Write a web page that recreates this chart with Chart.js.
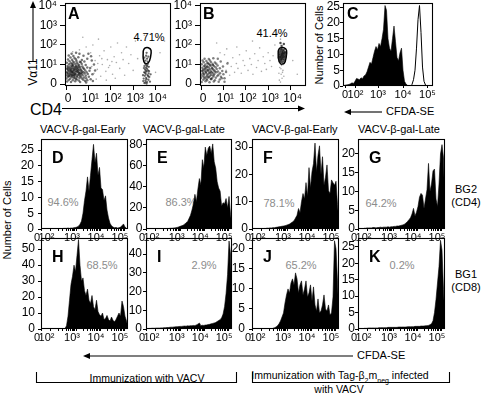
<!DOCTYPE html>
<html><head><meta charset="utf-8">
<script src="https://cdn.jsdelivr.net/npm/chart.js@4"></script>
<style>
body{margin:0;width:481px;height:394px;background:#fff;position:relative;overflow:hidden;font-family:"Liberation Sans",Arial,Helvetica,sans-serif;color:#000}
canvas{position:absolute}
.t{position:absolute;white-space:nowrap;line-height:1}
.c{transform:translate(-50%,-50%)}
.r{transform:translate(-50%,-50%) rotate(-90deg)}
.p{font-size:11px;color:#8c8c8c}
</style></head><body>
<svg width="481" height="394" style="position:absolute;left:0;top:0">
 <g stroke="#000" stroke-width="1.1" fill="none">
  <line x1="33" y1="62" x2="33" y2="6"/>
  <line x1="62" y1="108.5" x2="299" y2="108.5"/>
  <line x1="350" y1="112" x2="382" y2="112"/>
  <line x1="89" y1="356" x2="353" y2="356"/>
  <path d="M36.5,372 V382.5 H236.5 V372"/>
  <path d="M252.5,372 V382.5 H449.5 V372"/>
 </g>
 <g fill="#000">
  <polygon points="33,1 30,8 36,8"/>
  <polygon points="305,108.5 298,105.5 298,111.5"/>
  <polygon points="344,112 351,109 351,115"/>
  <polygon points="83,356 90,353 90,359"/>
 </g>
</svg>
<div class="t r" style="left:33px;top:72px;font-size:12px">Vα11</div>
<div class="t" style="left:30px;top:102px;font-size:16px">CD4</div>
<div class="t c" style="left:149px;top:37px;font-size:11px">4.71%</div>
<div class="t c" style="left:272px;top:33px;font-size:11px">41.4%</div>
<div class="t r" style="left:319px;top:45px;font-size:11px">Number of Cells</div>
<div class="t" style="left:386px;top:106px;font-size:11px">CFDA-SE</div>
<div class="t" style="left:40px;top:124px;font-size:11px">VACV-β-gal-Early</div>
<div class="t" style="left:143px;top:124px;font-size:11px">VACV-β-gal-Late</div>
<div class="t" style="left:252px;top:124px;font-size:11px">VACV-β-gal-Early</div>
<div class="t" style="left:358px;top:124px;font-size:11px">VACV-β-gal-Late</div>
<div class="t c" style="left:466px;top:196px;font-size:11px;text-align:center;line-height:13px">BG2<br>(CD4)</div>
<div class="t c" style="left:466px;top:281px;font-size:11px;text-align:center;line-height:13px">BG1<br>(CD8)</div>
<div class="t r" style="left:7px;top:220px;font-size:11px">Number of Cells</div>
<div class="t" style="left:357px;top:350px;font-size:11px">CFDA-SE</div>
<div class="t c" style="left:147px;top:378px;font-size:10.5px">Immunization with VACV</div>
<div class="t c" style="left:340px;top:377px;font-size:10.5px">Immunization with Tag-β<sub style="font-size:7px">2</sub>m<sub style="font-size:7px">neg</sub> infected</div>
<div class="t c" style="left:339px;top:389px;font-size:10.5px;background:#fff;padding:0 2px">with VACV</div>
<div class="t c p" style="left:63px;top:202px">94.6%</div>
<div class="t c p" style="left:181px;top:202px">86.3%</div>
<div class="t c p" style="left:279px;top:203px">78.1%</div>
<div class="t c p" style="left:381px;top:203px">64.2%</div>
<div class="t c p" style="left:102px;top:265px">68.5%</div>
<div class="t c p" style="left:204px;top:265px">2.9%</div>
<div class="t c p" style="left:301px;top:265px">65.2%</div>
<div class="t c p" style="left:402px;top:265px">0.2%</div>
<script>
// ---------- axis tick labels / positions ----------
const abTickPos = [0, 1, 2, 3, 4];
const abTickLabels = ['0', '10¹', '10²', '10³', '10⁴'];
const cfdaTickPos = [0, 9.5, 35, 59, 83, 17.5, 21.9, 25, 27.5, 29.5, 31.1, 32.6, 33.9, 42.2, 46.5, 49.4, 51.8, 53.7, 55.3, 56.7, 58, 66.2, 70.5, 73.4, 75.8, 77.7, 79.3, 80.7, 82];
const cfdaTickLabels = ['0', '10²', '10³', '10⁴', '10⁵', '', '', '', '', '', '', '', '', '', '', '', '', '', '', '', '', '', '', '', '', '', '', '', ''];
const cTickPos = [2, 12.5, 35, 60, 84.5];
const cTickLabels = ['0', '10²', '10³', '10⁴', '10⁵'];

// ---------- histogram bins (CFDA-SE channel) ----------
const bins = [0,1.5,3,4.5,6,7.5,9,10.5,12,13.5,15,16.5,18,19.5,21,22.5,24,25.5,27,28.5,30,31.5,33,34.5,36,37.5,39,40.5,42,43.5,45,46.5,48,49.5,51,52.5,54,55.5,57,58.5,60,61.5,63,64.5,66,67.5,69,70.5,72,73.5,75,76.5,78,79.5,81,82.5,84,85.5,87];
const binsC = [0,1.5,3,4.5,6,7.5,9,10.5,12,13.5,15,16.5,18,19.5,21,22.5,24,25.5,27,28.5,30,31.5,33,34.5,36,37.5,39,40.5,42,43.5,45,46.5,48,49.5,51,52.5,54,55.5,57,58.5,60,61.5,63,64.5,66,67.5,69,70.5,72,73.5,75,76.5,78,79.5,81,82.5,84,85.5,87,88.5,90];

// ---------- panel C ----------
const cDivided = [0,0.2,0.3,0.4,0.5,0.7,1,0.8,1.5,2.4,2.2,2,2.6,2.3,3.2,3.5,4.5,6,7.5,7,9,11,12.5,11.5,13.5,12.5,15,18,25.5,24,15,12,11,15,19,14,9,8,10.5,12,5,1.5,0.6,0.2,0,0,0,0,0,0,0,0,0,0,0,0,0,0,0,0,0];
const cUndivided = [0,0,0,0,0,0,0,0,0,0,0,0,0,0,0,0,0,0,0,0,0,0,0,0,0,0,0,0,0,0,0,0,0,0,0,0,0,0,0,0,0,0,0,0,0,0,0.5,2,5,12,21,25.5,17,6,1.5,0.3,0,0,0,0,0];

// ---------- panels D-K ----------
const histD = [0,0,0,0,0,0,0,0,0,0,0,0,0,0.1,0.1,0.2,0.2,0.2,0.3,0.2,0.3,0.3,0.4,0.5,0.6,0.9,1.5,2.5,5,9,12,16.5,12,17,22,26.8,21,24,17,19.5,13,12.5,9,10.5,6,3.5,1.8,1,0.6,0.4,0.5,0.3,0.4,0.6,1,1.6,0.6,0.2,0];
const histE = [0,0,0,0,0,0,0,0,0,0,0.3,0.3,0.4,0.4,0.5,0.5,0.6,0.7,0.8,1,1.2,1.5,2,2.5,3,3.5,4.5,6,7,10,13,18,24,33,26,38,48,42,66,58,78,70,77,79,72,81,64,58,45,39,36,22,25,24,29,20,31,14,3];
const histF = [0,0,0,0,0,0,0,0,0.2,0.2,0.3,0.3,0.4,0.4,0.5,0.5,0.6,0.7,0.8,0.9,1,1.1,1.2,1.4,1.6,1.8,2.2,2.6,3,4,5,7.5,6,10,13,11,17,12,22.5,15,21,24,31.5,21,27,30.5,20,26.5,16,19,23.5,14,13,18,17,16,17.5,9,2];
const histG = [0,0,0,0,0.2,0.2,0.3,0.3,0.3,0.3,0.4,0.4,0.3,0.4,0.4,0.5,0.4,0.5,0.5,0.5,0.6,0.5,0.6,0.6,0.7,0.7,0.8,0.8,0.9,1,1.1,1.3,1.6,2,2.5,3,4,5.5,3.5,4.5,6,8.5,9.5,9,5.5,8,10.5,17.5,10,12,15.5,16,8,6,12,20,22.5,19,3];
const histH = [0,0,0,0,0,0,0,0,0,0,0,0,0,0,0,0,0.3,2,8,18,28,33,40,36,46,56,40,30,32,24,21,25,18,16,21,14,12,18,11,9,8,10,6,6.5,8.5,6,5,7.5,5.5,4.5,6,8,10,8,17.5,14,8,5,1];
const histI = [0,0,0.3,0.3,0.4,0.4,0.4,0.5,0.5,0.5,0.6,0.6,0.7,0.7,0.8,0.8,0.9,1,1,1.1,1.2,1.2,1.3,1.4,1.4,1.5,1.6,1.5,1.7,1.6,1.8,1.7,1.9,1.8,2.2,2.6,3.2,1.8,2,1.9,2.1,2.2,2.4,2.5,2.8,3,3.2,3.5,4,4.5,5,6,8,12,19,29,47,40,8];
const histJ = [0,0,0,0,0,0,0,0,0,0,0,0,0,0,0.2,0.3,0.5,0.8,1.3,2,3,4,6.5,8.5,10,9,11.5,12.5,11,14,12.5,9,11,12,8.5,10,12,8,9,11,7,10.5,6,4.5,7.5,4,4.5,6,8.5,5,4.5,6,3.5,4,8,22,20,12,2];
const histK = [0,0,0,0,0.2,0.2,0.2,0.3,0.3,0.3,0.3,0.3,0.3,0.3,0.4,0.4,0.4,0.4,0.4,0.4,0.5,0.5,0.5,0.5,0.5,0.5,0.5,0.6,0.6,0.6,0.6,0.6,0.6,0.7,0.7,0.7,0.7,0.7,0.8,0.8,0.8,0.8,0.9,0.9,0.9,1,1,1.1,1.3,1.6,2.5,5,9,14,19,27,24,12,2];

// ---------- panels A/B (CD4 vs Vα11, display decades) ----------
const aCloud = [[0.05,0.13],[0.22,0.1],[0.41,0.14],[0.63,0.11],[0.85,0.15],[0.12,0.21],[0.3,0.19],[0.48,0.23],[0.57,0.18],[0.77,0.22],[0.95,0.2],[0.02,0.29],[0.18,0.27],[0.35,0.3],[0.44,0.26],[0.6,0.31],[0.71,0.28],[0.9,0.3],[0.08,0.37],[0.25,0.35],[0.33,0.39],[0.5,0.36],[0.66,0.38],[0.8,0.34],[1.02,0.37],[0.04,0.45],[0.15,0.43],[0.29,0.46],[0.39,0.44],[0.55,0.47],[0.62,0.42],[0.74,0.45],[0.88,0.43],[0.1,0.53],[0.21,0.51],[0.36,0.54],[0.45,0.5],[0.58,0.55],[0.69,0.52],[0.83,0.54],[0.97,0.51],[0.03,0.61],[0.17,0.59],[0.27,0.62],[0.41,0.6],[0.52,0.63],[0.64,0.58],[0.78,0.61],[0.92,0.6],[0.09,0.69],[0.23,0.67],[0.34,0.7],[0.47,0.68],[0.56,0.71],[0.72,0.66],[0.86,0.69],[1.05,0.68],[0.05,0.77],[0.19,0.75],[0.3,0.78],[0.43,0.76],[0.6,0.79],[0.67,0.74],[0.81,0.77],[0.12,0.85],[0.26,0.83],[0.38,0.86],[0.51,0.84],[0.63,0.87],[0.77,0.82],[0.95,0.85],[0.07,0.93],[0.2,0.91],[0.32,0.94],[0.46,0.92],[0.58,0.95],[0.73,0.9],[0.14,1.01],[0.29,0.99],[0.42,1.02],[0.55,1.0],[0.7,1.03],[0.88,0.98],[0.04,1.09],[0.22,1.07],[0.37,1.1],[0.5,1.08],[0.66,1.11],[0.16,1.17],[0.31,1.15],[0.47,1.18],[0.62,1.14],[0.09,1.26],[0.27,1.24],[0.44,1.27],[0.71,1.23],[0.2,1.36],[0.38,1.34],[0.55,1.37],[0.12,1.46],[0.33,1.44],[0.13,0.4],[0.26,0.48],[0.4,0.52],[0.31,0.57],[0.47,0.64],[0.22,0.72],[0.37,0.8],[0.53,0.73],[0.15,0.65],[0.44,0.88],[0.28,0.92],[0.6,0.5],[0.06,0.56],[0.35,0.45],[0.5,0.42],[0.19,0.81],[0.65,0.7],[0.41,0.33],[0.26,0.6],[0.56,0.6],[0.11,0.74],[0.32,0.66],[0.48,0.79],[0.24,0.41],[0.7,0.58],[0.16,0.49],[0.38,0.73],[0.07,0.84],[0.55,0.89],[0.29,1.04],[1.1,0.25],[1.18,0.5],[1.08,0.82],[1.25,1.0],[1.15,1.2],[1.3,0.7],[1.12,1.42],[0.95,1.3],[0.82,1.15],[1.0,1.55],[0.78,1.45],[0.9,0.08],[1.2,0.15],[0.6,1.55],[0.45,1.6],[0.25,1.55]];
const aSparse = [[1.15,0.9],[1.25,0.55],[1.3,1.2],[1.4,0.75],[1.5,1.45],[1.55,0.4],[1.62,1.0],[1.7,1.7],[1.78,0.65],[1.85,1.25],[1.95,0.95],[2.0,1.9],[2.08,0.5],[2.15,1.4],[2.25,1.1],[2.3,2.1],[2.4,0.8],[2.48,1.6],[2.55,1.25],[2.62,0.45],[2.7,1.9],[2.8,1.05],[2.9,1.5],[3.0,0.7],[3.1,2.2],[3.2,1.3],[1.1,1.6],[1.2,2.0],[1.45,2.3],[0.9,1.9],[0.6,1.75],[0.3,1.65],[1.35,0.25],[1.8,0.2],[2.2,0.3],[0.75,2.4],[3.5,2.5],[4.2,1.6],[4.0,0.6],[4.4,2.2],[1.6,1.3],[1.9,0.85],[2.05,1.15],[1.42,1.05]];
const aColumn = [[3.5,0.05],[3.62,0.1],[3.55,0.18],[3.68,0.22],[3.47,0.28],[3.58,0.32],[3.72,0.36],[3.52,0.42],[3.64,0.46],[3.56,0.52],[3.69,0.55],[3.49,0.6],[3.6,0.64],[3.66,0.7],[3.53,0.74],[3.62,0.78],[3.57,0.84],[3.7,0.88],[3.5,0.92],[3.61,0.96],[3.56,1.0],[3.65,1.03],[3.45,0.15],[3.75,0.12],[3.6,0.02],[3.53,0.58],[3.67,0.4],[3.59,0.25],[3.63,0.9],[3.48,0.82],[3.57,0.68],[3.71,0.66],[3.44,0.45],[3.78,0.5],[3.55,0.08],[3.55,1.2],[3.62,1.3],[3.58,1.45],[3.65,1.15],[3.5,1.35],[3.6,1.6],[3.68,1.4]];
const aGate = [[3.45,1.7],[3.52,1.84],[3.68,1.86],[3.8,1.72],[3.77,1.35],[3.68,1.09],[3.52,1.07],[3.45,1.3],[3.45,1.7]];

const bCloud = [[0.03,0.1],[0.2,0.14],[0.38,0.09],[0.57,0.13],[0.79,0.12],[0.1,0.22],[0.27,0.2],[0.45,0.24],[0.62,0.19],[0.84,0.23],[0.0,0.31],[0.16,0.29],[0.33,0.33],[0.49,0.3],[0.66,0.32],[0.93,0.3],[0.07,0.4],[0.24,0.38],[0.41,0.42],[0.55,0.39],[0.73,0.41],[0.89,0.38],[0.02,0.49],[0.14,0.47],[0.3,0.5],[0.46,0.48],[0.6,0.51],[0.78,0.47],[1.0,0.5],[0.09,0.58],[0.22,0.56],[0.37,0.59],[0.52,0.57],[0.68,0.6],[0.85,0.55],[0.04,0.67],[0.18,0.65],[0.31,0.68],[0.44,0.66],[0.59,0.69],[0.76,0.64],[0.95,0.67],[0.11,0.75],[0.26,0.73],[0.4,0.76],[0.54,0.74],[0.7,0.77],[0.06,0.84],[0.2,0.82],[0.35,0.85],[0.49,0.83],[0.65,0.86],[0.84,0.81],[0.13,0.93],[0.28,0.91],[0.43,0.94],[0.58,0.92],[0.74,0.95],[0.03,1.02],[0.19,1.0],[0.36,1.03],[0.52,1.01],[0.68,1.04],[0.12,1.11],[0.29,1.09],[0.45,1.12],[0.62,1.1],[0.07,1.2],[0.24,1.18],[0.4,1.21],[0.16,1.3],[0.35,1.28],[0.55,1.32],[0.15,0.35],[0.28,0.44],[0.39,0.55],[0.23,0.62],[0.47,0.61],[0.33,0.72],[0.12,0.53],[0.5,0.8],[0.27,0.86],[0.4,0.98],[0.19,0.9],[0.56,0.45],[0.08,0.7],[0.35,0.36],[0.62,0.64],[0.44,0.27],[0.17,0.77],[0.3,1.05],[0.53,0.97],[0.25,0.26],[1.05,0.3],[1.12,0.62],[0.98,0.9],[1.18,1.05],[0.88,1.15],[0.75,1.3],[1.05,0.12]];
const bSparse = [[1.12,0.7],[1.2,1.1],[1.28,0.45],[1.35,0.9],[1.42,1.35],[1.5,0.6],[1.58,1.05],[1.65,0.8],[1.72,1.5],[1.8,0.55],[1.88,1.2],[1.95,0.95],[2.02,1.7],[2.1,0.7],[2.18,1.3],[2.25,1.0],[2.32,0.5],[2.4,1.55],[2.48,0.85],[2.55,1.2],[2.62,1.85],[2.7,0.65],[2.78,1.4],[2.85,1.05],[2.92,0.75],[3.0,1.6],[3.08,1.2],[3.15,0.9],[3.22,1.45],[3.3,2.0],[1.05,1.5],[1.15,1.8],[0.85,1.6],[1.6,1.9],[2.3,2.2],[3.55,2.3],[3.4,2.6],[0.7,2.1],[4.1,1.2],[4.3,0.5],[3.55,0.1],[3.62,0.3],[3.58,0.5],[3.66,0.7],[3.52,0.85],[3.6,0.95],[3.7,0.4],[3.5,0.2],[3.64,0.6],[3.57,0.78],[3.68,1.0],[3.48,0.55]];
const bGated = [[3.52,1.15],[3.6,1.12],[3.68,1.15],[3.5,1.25],[3.57,1.22],[3.64,1.26],[3.72,1.24],[3.48,1.35],[3.55,1.33],[3.62,1.36],[3.69,1.32],[3.76,1.37],[3.5,1.45],[3.58,1.43],[3.65,1.47],[3.72,1.44],[3.78,1.5],[3.49,1.55],[3.56,1.53],[3.63,1.57],[3.7,1.54],[3.76,1.6],[3.52,1.65],[3.6,1.63],[3.67,1.67],[3.74,1.64],[3.55,1.74],[3.63,1.72],[3.7,1.75],[3.6,1.8],[3.54,1.4],[3.66,1.4],[3.61,1.5],[3.59,1.28],[3.67,1.58],[3.6,1.95],[3.7,2.05],[3.55,2.1]];
const bGate = [[3.45,1.7],[3.52,1.84],[3.7,1.86],[3.82,1.72],[3.8,1.35],[3.72,1.06],[3.55,1.04],[3.46,1.3],[3.45,1.7]];

// ---------- drawing ----------
Chart.defaults.font.family = '"Liberation Sans", Arial, Helvetica, sans-serif';
Chart.defaults.color = '#000';

const panelBox = {
  id: 'panelBox',
  afterDraw(chart, args, o) {
    const a = chart.chartArea, ctx = chart.ctx;
    ctx.save();
    ctx.strokeStyle = '#000'; ctx.lineWidth = 1.1;
    const l = Math.round(a.left), t = Math.round(a.top), r = Math.round(a.right), b = Math.round(a.bottom);
    ctx.strokeRect(l + 0.5, t + 0.5, r - l - 1, b - t - 1);
    ctx.font = 'bold 16px "Liberation Sans", Arial, sans-serif';
    ctx.fillStyle = '#000'; ctx.textBaseline = 'alphabetic';
    ctx.fillText(o.letter, a.left + o.dx, a.top + o.dy);
    ctx.restore();
  }
};

function axis(min, max, pos, labels, o) {
  return {
    type: 'linear', min: min, max: max,
    afterBuildTicks: s => { s.ticks = pos.map(v => ({ value: v })); },
    afterFit: s => { if (s.isHorizontal()) s.height = o.size; else s.width = o.size; },
    ticks: { autoSkip: false, maxRotation: 0, minRotation: 0, padding: o.pad, labelOffset: o.off || 0,
             font: { size: o.font }, color: '#000', callback: (v, i) => labels[i] },
    grid: { display: true, drawOnChartArea: false, drawTicks: true, tickLength: o.tick, color: '#000', lineWidth: 1 },
    border: { display: false }
  };
}

function makePanel(box, datasets, xAxis, yAxis, letter, dx, dy, m) {
  const [bx, by, bw, bh] = box;
  const cv = document.createElement('canvas');
  cv.width = bw + m.l + m.r; cv.height = bh + m.t + m.b;
  cv.style.left = (bx - m.l) + 'px'; cv.style.top = (by - m.t) + 'px';
  document.body.appendChild(cv);
  new Chart(cv, {
    type: 'scatter',
    data: { datasets: datasets },
    options: {
      responsive: false, animation: false, devicePixelRatio: 1,
      layout: { padding: { top: m.t, right: m.r, left: 0, bottom: 0 } },
      plugins: { legend: { display: false }, tooltip: { enabled: false },
                 panelBox: { letter: letter, dx: dx, dy: dy } },
      scales: { x: xAxis, y: yAxis }
    },
    plugins: [panelBox]
  });
}

const pts = arr => arr.map(p => ({ x: p[0], y: p[1] }));
const dots = (arr, col, r) => ({ data: pts(arr), pointRadius: r, pointBorderWidth: 0, backgroundColor: col });
const gateLine = arr => ({ data: pts(arr), showLine: true, pointRadius: 0, borderColor: '#000', borderWidth: 1.5, tension: 0.35, fill: false });
const hist = (xs, ys, filled) => ({
  type: 'line', data: xs.map((x, i) => ({ x: x, y: ys[i] })), pointRadius: 0, tension: 0,
  borderColor: '#000', borderWidth: filled ? 0.6 : 1, backgroundColor: '#000', fill: filled ? 'origin' : false
});

// A and B
const abM = { l: 40, r: 10, t: 12, b: 26 };
const abX = () => axis(-0.045, 4.69, abTickPos, abTickLabels, { size: 26, pad: 1, tick: 4, font: 12, off: 2 });
const abY = () => axis(-0.1, 4.15, abTickPos, abTickLabels, { size: 40, pad: 3, tick: 5, font: 12 });
makePanel([65, 3, 106, 83], [dots(aCloud, 'rgba(25,25,25,0.6)', 1.25), dots(aSparse, 'rgba(90,90,90,0.5)', 0.8), dots(aColumn, 'rgba(25,25,25,0.65)', 1.15), gateLine(aGate)], abX(), abY(), 'A', 3, 16, abM);
makePanel([200, 3, 106, 83], [dots(bCloud, 'rgba(25,25,25,0.55)', 1.25), dots(bSparse, 'rgba(90,90,90,0.5)', 0.8), dots(bGated, 'rgba(20,20,20,0.75)', 1.2), gateLine(bGate)], abX(), abY(), 'B', 3, 16, abM);

// C
makePanel([343, 3, 90, 83], [hist(binsC, cDivided, true), hist(binsC, cUndivided, false)],
  axis(0, 90, cTickPos, cTickLabels, { size: 22, pad: 0, tick: 2, font: 11 }),
  axis(0, 26.3, [0, 5, 10, 15, 20, 25], ['0', '5', '10', '15', '20', '25'], { size: 40, pad: 0, tick: 3, font: 12 }),
  'C', 4, 16, { l: 40, r: 14, t: 12, b: 22 });

// D-K
const histPanels = [
  { letter: 'D', box: [41, 139, 87, 90], vals: histD, ymax: 28.5, yt: [0, 5, 10, 15, 20, 25], pad: 4 },
  { letter: 'E', box: [146, 139, 86, 90], vals: histE, ymax: 85.7, yt: [0, 20, 40, 60, 80], pad: 0.5 },
  { letter: 'F', box: [252, 139, 87, 90], vals: histF, ymax: 33, yt: [0, 10, 20, 30], pad: 1 },
  { letter: 'G', box: [358, 139, 87, 90], vals: histG, ymax: 24, yt: [0, 5, 10, 15, 20], pad: 0 },
  { letter: 'H', box: [41, 238, 87, 91], vals: histH, ymax: 57, yt: [0, 10, 20, 30, 40, 50], pad: 3 },
  { letter: 'I', box: [146, 238, 86, 91], vals: histI, ymax: 48.6, yt: [0, 10, 20, 30, 40], pad: 1 },
  { letter: 'J', box: [252, 238, 87, 91], vals: histJ, ymax: 22.7, yt: [0, 5, 10, 15, 20], pad: 4 },
  { letter: 'K', box: [358, 238, 87, 91], vals: histK, ymax: 27.7, yt: [0, 5, 10, 15, 20, 25], pad: 0 }
];
histPanels.forEach(p => {
  makePanel(p.box, [hist(bins, p.vals, true)],
    axis(0, 87, cfdaTickPos, cfdaTickLabels, { size: 22, pad: 0, tick: 2, font: 11, off: -4 }),
    axis(0, p.ymax, p.yt, p.yt.map(String), { size: 40, pad: p.pad, tick: 3, font: 12 }),
    p.letter, 11, 24, { l: 40, r: 14, t: 12, b: 22 });
});
</script>
</body></html>
